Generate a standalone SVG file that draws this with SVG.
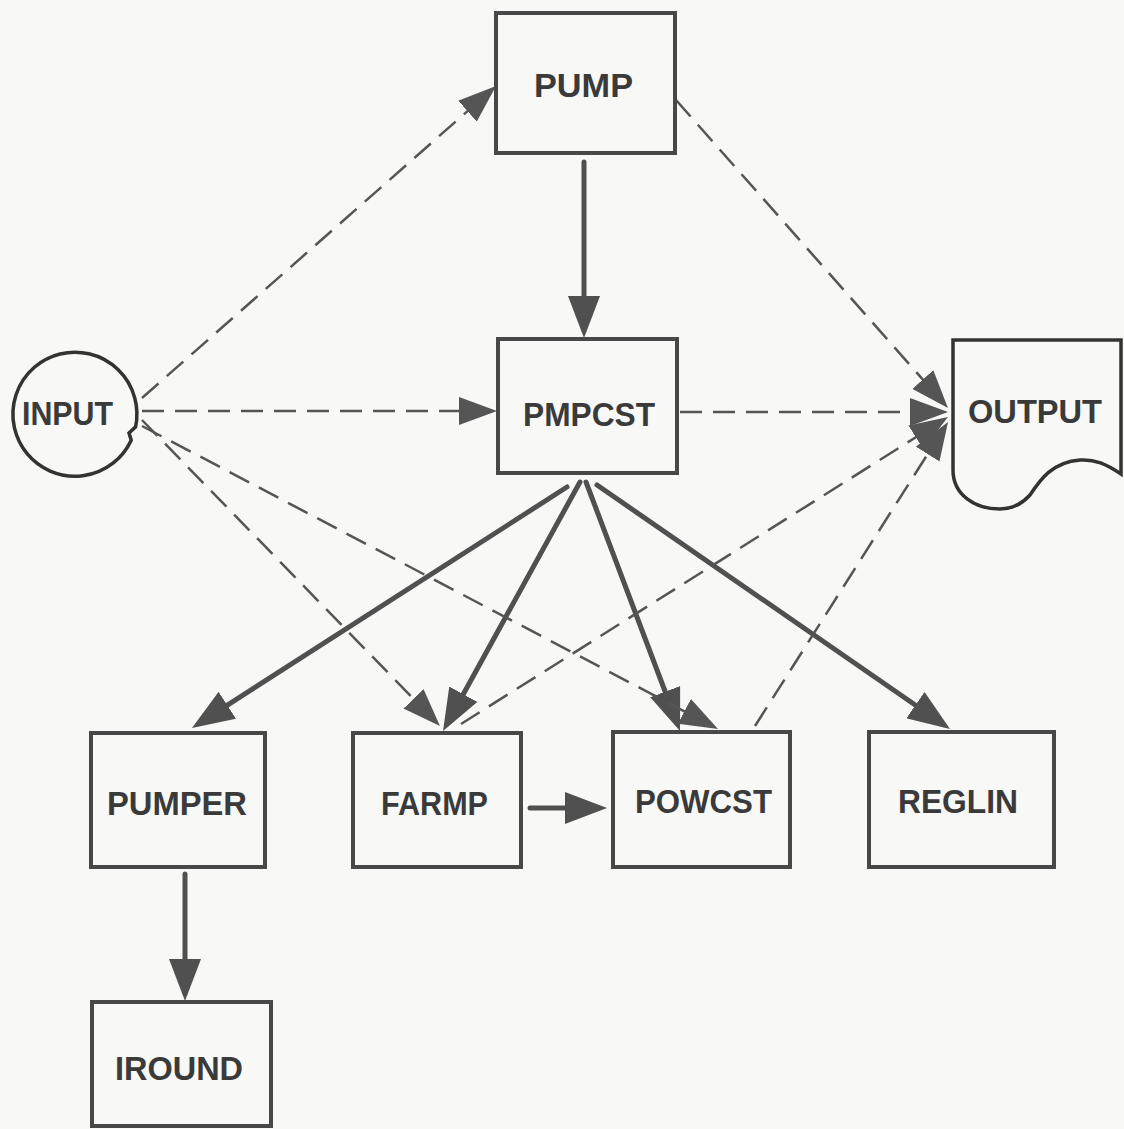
<svg xmlns="http://www.w3.org/2000/svg" width="1124" height="1129" viewBox="0 0 1124 1129">
<style>
.box{fill:none;stroke:#484848;stroke-width:4}
.shape{fill:none;stroke:#333;stroke-width:3.5}
.lbl{font-family:"Liberation Sans",Arial,sans-serif;font-weight:bold;font-size:34px;fill:#3a3a3a;text-anchor:middle}
.solid{stroke:#505050;stroke-width:5;fill:none;stroke-linecap:round}
.dash{stroke:#555;stroke-width:2.5;fill:none;stroke-dasharray:22 11}
</style>
<defs>
<marker id="hs" markerUnits="userSpaceOnUse" markerWidth="42" markerHeight="32" refX="34" refY="16" orient="auto">
<path d="M0,0 L42,16 L0,32 Z" fill="#505050"/>
</marker>
<marker id="hd" markerUnits="userSpaceOnUse" markerWidth="38" markerHeight="28" refX="32" refY="14" orient="auto">
<path d="M0,0 L38,14 L0,28 Z" fill="#555"/>
</marker>
</defs>
<rect x="0" y="0" width="1124" height="1129" fill="#f8f8f6"/>
<g id="connectors">
<line class="solid" x1="584" y1="162" x2="584" y2="330" marker-end="url(#hs)"/>
<line class="solid" x1="567" y1="487" x2="198.7" y2="723.6" marker-end="url(#hs)"/>
<line class="solid" x1="580" y1="482" x2="446.9" y2="724" marker-end="url(#hs)"/>
<line class="solid" x1="586" y1="482" x2="677.2" y2="723.5" marker-end="url(#hs)"/>
<line class="solid" x1="597" y1="485" x2="943.4" y2="724.5" marker-end="url(#hs)"/>
<line class="solid" x1="530" y1="808" x2="599" y2="808" marker-end="url(#hs)"/>
<line class="solid" x1="185" y1="874" x2="185" y2="993" marker-end="url(#hs)"/>
<line class="dash" x1="142" y1="398" x2="491.5" y2="90" marker-end="url(#hd)"/>
<line class="dash" x1="142" y1="411" x2="491" y2="411" marker-end="url(#hd)"/>
<line class="dash" x1="142" y1="420" x2="435.8" y2="721.7" marker-end="url(#hd)"/>
<line class="dash" x1="142" y1="426" x2="712.7" y2="726.2" marker-end="url(#hd)"/>
<line class="dash" x1="676" y1="100" x2="944" y2="403.5" marker-end="url(#hd)"/>
<line class="dash" x1="680" y1="412" x2="942" y2="412" marker-end="url(#hd)"/>
<line class="dash" x1="461" y1="724" x2="942.9" y2="420.2" marker-end="url(#hd)"/>
<line class="dash" x1="755" y1="726" x2="944.8" y2="427.1" marker-end="url(#hd)"/>
</g>
<g id="PUMP">
<rect class="box" x="496" y="13" width="179" height="140"/>
<text class="lbl" x="583.5" y="97" textLength="99" lengthAdjust="spacingAndGlyphs">PUMP</text>
</g>
<g id="PMPCST">
<rect class="box" x="498" y="339" width="179" height="134"/>
<text class="lbl" x="589" y="426" textLength="132" lengthAdjust="spacingAndGlyphs">PMPCST</text>
</g>
<g id="INPUT">
<path class="shape" d="M135.6,426.9 L129,433 L131.2,440.2 A62,62 0 1,1 135.6,426.9 Z"/>
<text class="lbl" x="67.5" y="425" textLength="91" lengthAdjust="spacingAndGlyphs">INPUT</text>
</g>
<g id="OUTPUT">
<path class="shape" d="M953,340 L1121,340 L1121,474 C1106,464 1095,459 1080,460 C1052,462 1040,480 1030,495 C1021,505 1011,509 1000,509 C975,509 953,495 953,470 Z"/>
<text class="lbl" x="1035" y="423" textLength="134" lengthAdjust="spacingAndGlyphs">OUTPUT</text>
</g>
<g id="PUMPER">
<rect class="box" x="91" y="733" width="174" height="134"/>
<text class="lbl" x="177" y="815" textLength="140" lengthAdjust="spacingAndGlyphs">PUMPER</text>
</g>
<g id="FARMP">
<rect class="box" x="353" y="733" width="168" height="134"/>
<text class="lbl" x="434.5" y="815" textLength="107" lengthAdjust="spacingAndGlyphs">FARMP</text>
</g>
<g id="POWCST">
<rect class="box" x="613" y="732" width="177" height="135"/>
<text class="lbl" x="703.5" y="813" textLength="137" lengthAdjust="spacingAndGlyphs">POWCST</text>
</g>
<g id="REGLIN">
<rect class="box" x="869" y="732" width="185" height="135"/>
<text class="lbl" x="958" y="813" textLength="120" lengthAdjust="spacingAndGlyphs">REGLIN</text>
</g>
<g id="IROUND">
<rect class="box" x="92" y="1002" width="179" height="124"/>
<text class="lbl" x="179" y="1080" textLength="128" lengthAdjust="spacingAndGlyphs">IROUND</text>
</g>
</svg>
